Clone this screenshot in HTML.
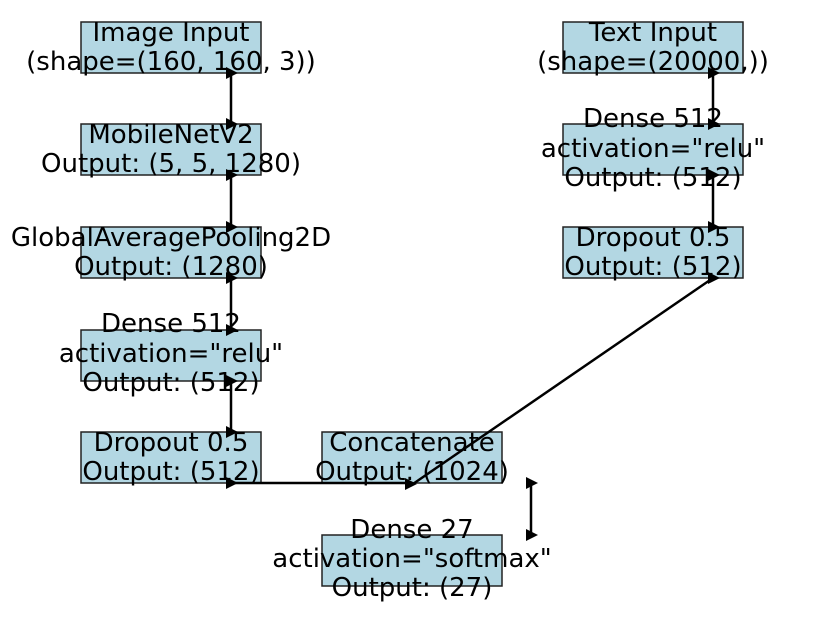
<!DOCTYPE html>
<html><head><meta charset="utf-8"><style>
html,body{margin:0;padding:0;background:#fff;width:822px;height:618px;overflow:hidden}
svg{display:block}
text{font-family:"DejaVu Sans","Liberation Sans",sans-serif;font-size:26px;fill:#000;text-anchor:middle}
rect{fill:#b3d7e3;stroke:#222;stroke-width:1.5}
line{stroke:#000;stroke-width:2.5}
</style></head><body>
<svg width="822" height="618" viewBox="0 0 822 618">
<defs><path id="ah" d="M-3,-6 L9,0 L-3,6 Z" fill="#000"/></defs>
<rect x="81" y="22" width="180" height="51"/>
<rect x="81" y="124" width="180" height="51"/>
<rect x="81" y="227" width="180" height="51"/>
<rect x="81" y="330" width="180" height="51"/>
<rect x="81" y="432" width="180" height="51"/>
<rect x="322" y="432" width="180" height="51"/>
<rect x="322" y="535" width="180" height="51"/>
<rect x="563" y="22" width="180" height="51"/>
<rect x="563" y="124" width="180" height="51"/>
<rect x="563" y="227" width="180" height="51"/>

<line x1="231" y1="73" x2="231" y2="124"/>
<line x1="231" y1="175" x2="231" y2="227"/>
<line x1="231" y1="278" x2="231" y2="330"/>
<line x1="231" y1="381" x2="231" y2="432"/>
<line x1="713" y1="73" x2="713" y2="124"/>
<line x1="713" y1="175" x2="713" y2="227"/>
<line x1="231" y1="483" x2="410" y2="483"/>
<line x1="713" y1="278" x2="410" y2="486"/>
<line x1="531" y1="483" x2="531" y2="535"/>

<text x="171" y="41">Image Input</text>
<text x="171" y="70">(shape=(160, 160, 3))</text>
<text x="171" y="143">MobileNetV2</text>
<text x="171" y="172">Output: (5, 5, 1280)</text>
<text x="171" y="246">GlobalAveragePooling2D</text>
<text x="171" y="275">Output: (1280)</text>
<text x="171" y="332">Dense 512</text>
<text x="171" y="362">activation="relu"</text>
<text x="171" y="391">Output: (512)</text>
<text x="171" y="451">Dropout 0.5</text>
<text x="171" y="480">Output: (512)</text>
<text x="412" y="451">Concatenate</text>
<text x="412" y="480">Output: (1024)</text>
<text x="412" y="538">Dense 27</text>
<text x="412" y="567">activation="softmax"</text>
<text x="412" y="596">Output: (27)</text>
<text x="653" y="41">Text Input</text>
<text x="653" y="70">(shape=(20000,))</text>
<text x="653" y="127">Dense 512</text>
<text x="653" y="157">activation="relu"</text>
<text x="653" y="186">Output: (512)</text>
<text x="653" y="246">Dropout 0.5</text>
<text x="653" y="275">Output: (512)</text>

<use href="#ah" x="229" y="73"/><use href="#ah" x="229" y="124"/>
<use href="#ah" x="229" y="175"/><use href="#ah" x="229" y="227"/>
<use href="#ah" x="229" y="278"/><use href="#ah" x="229" y="330"/>
<use href="#ah" x="229" y="381"/><use href="#ah" x="229" y="432"/>
<use href="#ah" x="711" y="73"/><use href="#ah" x="711" y="124"/>
<use href="#ah" x="711" y="175"/><use href="#ah" x="711" y="227"/>
<use href="#ah" x="711" y="278"/>
<use href="#ah" x="229" y="483"/><use href="#ah" x="408" y="484"/>
<use href="#ah" x="529" y="483"/><use href="#ah" x="529" y="535"/>
</svg>
</body></html>
